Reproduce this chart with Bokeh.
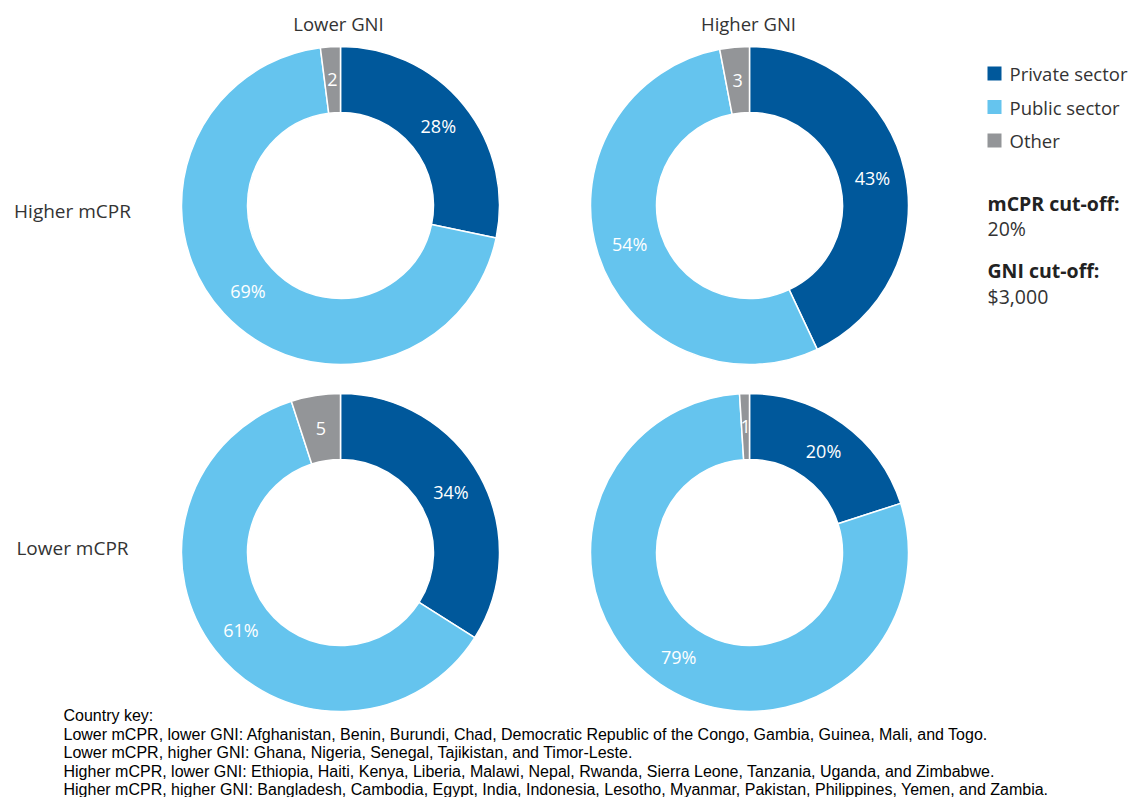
import numpy as np
from bokeh.plotting import figure
from bokeh.models import Range1d, ColumnDataSource
from bokeh.core.properties import value
from bokeh.embed import file_html
from bokeh.resources import INLINE

# ---------------- data ----------------
col_labels = ["Lower GNI", "Higher GNI"]
row_labels = ["Higher mCPR", "Lower mCPR"]
sectors = ["Private sector", "Public sector", "Other"]
sector_colors = ["#00589B", "#65C4EE", "#939598"]
# panel order: (Higher mCPR, Lower GNI), (Higher mCPR, Higher GNI),
#              (Lower mCPR, Lower GNI),  (Lower mCPR, Higher GNI)
panel_row = [0, 0, 1, 1]
panel_col = [0, 1, 0, 1]
private = [28, 43, 34, 20]
public = [69, 54, 61, 79]
other = [2, 3, 5, 1]
cutoff_heads = ["mCPR cut-off:", "GNI cut-off:"]
cutoff_vals = ["20%", "$3,000"]
notes = [
    "Country key:",
    "Lower mCPR, lower GNI: Afghanistan, Benin, Burundi, Chad, Democratic Republic of the Congo, Gambia, Guinea, Mali, and Togo.",
    "Lower mCPR, higher GNI: Ghana, Nigeria, Senegal, Tajikistan, and Timor-Leste.",
    "Higher mCPR, lower GNI: Ethiopia, Haiti, Kenya, Liberia, Malawi, Nepal, Rwanda, Sierra Leone, Tanzania, Uganda, and Zimbabwe.",
    "Higher mCPR, higher GNI: Bangladesh, Cambodia, Egypt, India, Indonesia, Lesotho, Myanmar, Pakistan, Philippines, Yemen, and Zambia.",
]

# ---------------- layout ----------------
W, H = 1131, 797
def Y(sy):
    return H - sy  # screen y -> data y

col_x = [340, 749]
row_y = [205, 552]
row_label_y = [210, 547]
R_OUT, R_IN = 159, 93
R_LAB = (R_OUT + R_IN) / 2
FONT = "Open Sans"
TXT = "#333333"

p = figure(width=W, height=H, x_range=Range1d(0, W), y_range=Range1d(0, H),
           output_backend="svg", toolbar_location=None, min_border=0,
           outline_line_color=None, background_fill_color="white")
p.axis.visible = False
p.grid.visible = False

wx, wy, ws, we, wc = [], [], [], [], []
lx, ly, lt = [], [], []
for i in range(4):
    cx = col_x[panel_col[i]]
    cy = Y(row_y[panel_row[i]])
    vals = [private[i], public[i], other[i]]
    tot = float(sum(vals))
    cum = 0.0
    for k, v in enumerate(vals):
        f0 = cum / tot
        f1 = (cum + v) / tot
        wx.append(cx); wy.append(cy)
        ws.append(np.pi / 2 - 2 * np.pi * f0)
        we.append(np.pi / 2 - 2 * np.pi * f1)
        wc.append(sector_colors[k])
        mid = np.pi / 2 - 2 * np.pi * (f0 + f1) / 2
        lx.append(cx + R_LAB * np.cos(mid))
        ly.append(cy + R_LAB * np.sin(mid))
        lt.append(f"{v}%" if k < 2 else f"{v}")
        cum += v

src = ColumnDataSource(dict(x=wx, y=wy, s=ws, e=we, c=wc))
p.annular_wedge(x="x", y="y", inner_radius=R_IN, outer_radius=R_OUT,
                start_angle="s", end_angle="e", direction="clock",
                fill_color="c", line_color="white", line_width=1.5, source=src)

p.text(x=lx, y=ly, text=lt, text_color="white", text_align="center",
       text_baseline="middle", text_font=value(FONT), text_font_size=value("18px"))

# column headers
p.text(x=[col_x[0] - 2, col_x[1] - 1], y=[Y(23), Y(23)], text=col_labels, text_color=TXT,
       text_align="center", text_baseline="middle", text_font=value(FONT),
       text_font_size=value("18.5px"))
# row labels
p.text(x=[72, 72], y=[Y(r) for r in row_label_y], text=row_labels, text_color=TXT,
       text_align="center", text_baseline="middle", text_font=value(FONT),
       text_font_size=value("19px"))

# legend
leg_y = [Y(73 + 33.5 * k) for k in range(len(sectors))]
p.rect(x=[994] * len(sectors), y=leg_y, width=14, height=14, fill_color=sector_colors,
       line_color=None)
p.text(x=[1009] * len(sectors), y=leg_y, text=sectors, text_color=TXT, text_align="left",
       text_baseline="middle", text_font=value(FONT), text_font_size=value("18.5px"))

# cut-offs
p.text(x=[987, 987], y=[Y(203), Y(270)], text=cutoff_heads, text_color="#222222",
       text_align="left", text_baseline="middle", text_font=value(FONT),
       text_font_size=value("19.5px"), text_font_style="bold")
p.text(x=[987, 987], y=[Y(228), Y(296)], text=cutoff_vals, text_color=TXT,
       text_align="left", text_baseline="middle", text_font=value(FONT),
       text_font_size=value("19.5px"))

# footnote
p.text(x=[63] * len(notes), y=[Y(715 + 18.5 * k) for k in range(len(notes))], text=notes,
       text_color="black", text_align="left", text_baseline="middle",
       text_font=value("Liberation Sans"), text_font_size=value("16px"))

open("out.html", "w").write(file_html(p, INLINE))
